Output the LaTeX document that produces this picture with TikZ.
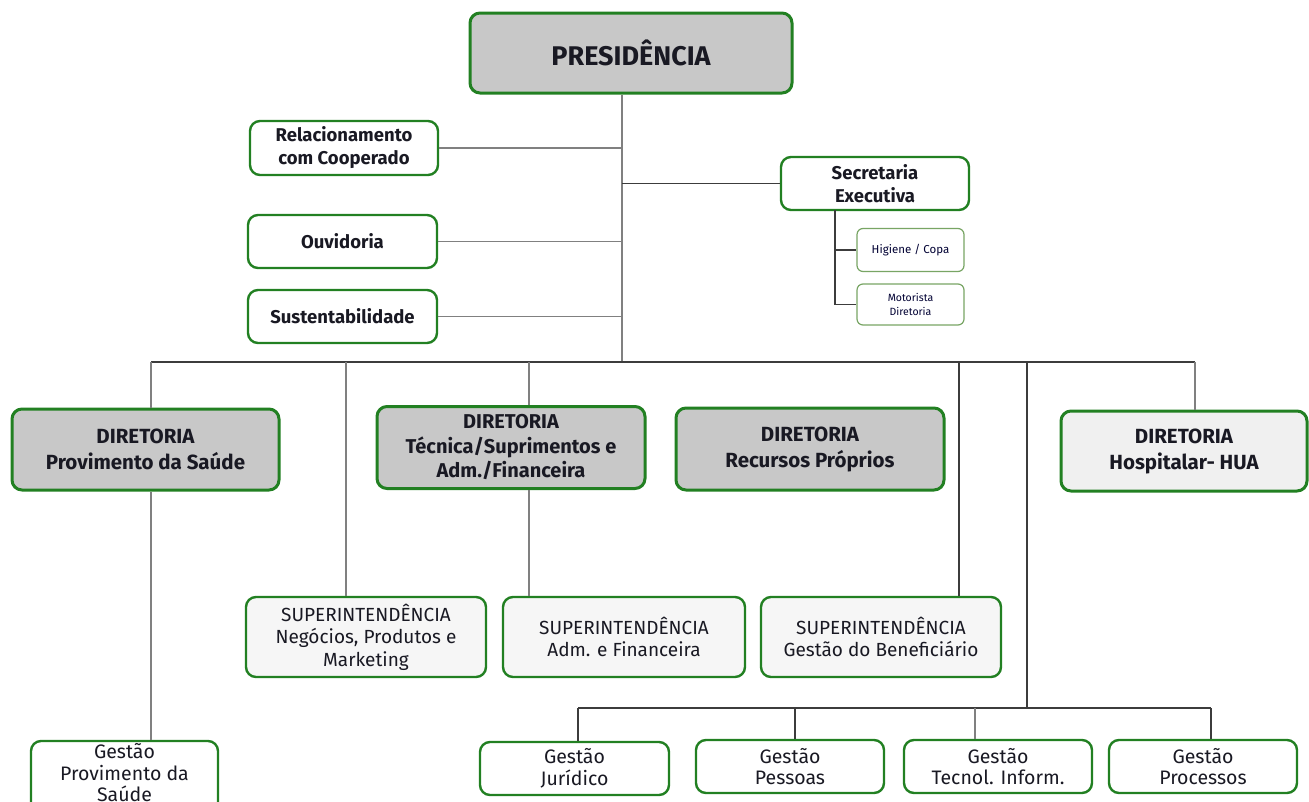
\documentclass[tikz,border=0pt]{standalone}
\usepackage{fontspec}
\setmainfont{Fira Sans}
\usetikzlibrary{calc}
\definecolor{gr}{RGB}{34,128,34}
\definecolor{lgr}{RGB}{120,165,100}
\definecolor{boxgray}{RGB}{200,200,200}
\definecolor{supfill}{RGB}{246,246,246}
\definecolor{hosfill}{RGB}{240,240,240}
\definecolor{lnA}{RGB}{128,128,128}
\definecolor{lnB}{RGB}{60,60,60}
\definecolor{txt}{RGB}{25,25,35}
\tikzset{
  base/.style={rounded corners=10pt, align=center, inner sep=0pt, text=txt},
  bigbox/.style={base, draw=gr, line width=3pt, fill=boxgray},
  sidebox/.style={base, draw=gr, line width=2.4pt, fill=white, font=\fontsize{18.5}{23}\selectfont\bfseries},
  dirbox/.style={base, draw=gr, line width=3pt, fill=boxgray, font=\fontsize{20.5}{26}\selectfont\bfseries},
  supbox/.style={base, draw=gr, line width=2.4pt, fill=supfill, font=\fontsize{19}{22.5}\selectfont},
  gesbox/.style={base, draw=gr, line width=2.4pt, fill=white, font=\fontsize{19.5}{21.5}\selectfont},
  smallbox/.style={base, draw=lgr, line width=1.2pt, fill=white, rounded corners=6pt, font=\fontsize{11.5}{14}\selectfont, text=black!80!blue},
  ln/.style={draw=lnA, line width=1.6pt},
  lnd/.style={draw=lnB, line width=1.6pt},
}
\begin{document}
\begin{tikzpicture}[x=1pt,y=-1pt]
\useasboundingbox (0,0) rectangle (1309,801);
\clip (0,0) rectangle (1309,801);
\fill[white] (0,0) rectangle (1309,801);

% coordinates
\coordinate (trunk) at (622,362);
\coordinate (busL) at (151,362);
\coordinate (busR) at (1195,362);
\coordinate (j2) at (346,362);
\coordinate (j3) at (529,362);
\coordinate (j4) at (959,362);
\coordinate (j5) at (1027,362);
\coordinate (sv) at (835,210);
\coordinate (gb) at (1027,708);
\coordinate (gbL) at (578,708);
\coordinate (gbR) at (1211,708);
\coordinate (g2) at (795,708);
\coordinate (g3) at (975,708);

% nodes
\node[bigbox, minimum width=322pt, minimum height=80pt, font=\fontsize{27}{32}\selectfont\bfseries] (pres) at (631,53) {PRESIDÊNCIA};
\node[sidebox, minimum width=188pt, minimum height=54pt] (rel) at (344,148) {Relacionamento\\com Cooperado};
\node[sidebox, minimum width=189pt, minimum height=53pt] (ouv) at (342.5,241.5) {Ouvidoria};
\node[sidebox, minimum width=189pt, minimum height=53pt] (sus) at (342.5,316.5) {Sustentabilidade};
\node[sidebox, minimum width=188pt, minimum height=53pt] (sec) at (875,183.5) {Secretaria\\Executiva};
\node[smallbox, minimum width=107pt, minimum height=43pt] (hig) at (910.5,250) {Higiene / Copa};
\node[smallbox, minimum width=107pt, minimum height=41pt, font=\fontsize{10.5}{14.5}\selectfont] (mot) at (910.5,304.5) {Motorista\\Diretoria};

\node[dirbox, minimum width=267pt, minimum height=81pt] (d1) at (145.5,449.5) {DIRETORIA\\Provimento da Saúde};
\node[dirbox, minimum width=268pt, minimum height=82pt, font=\fontsize{20}{24.5}\selectfont\bfseries] (d2) at (511,447.5) {DIRETORIA\\Técnica/Suprimentos e\\Adm./Financeira};
\node[dirbox, minimum width=268pt, minimum height=82pt] (d3) at (810,449) {DIRETORIA\\Recursos Próprios};
\node[dirbox, fill=hosfill, minimum width=246pt, minimum height=80pt] (d5) at (1184,451) {DIRETORIA\\Hospitalar- HUA};

\node[supbox, minimum width=240pt, minimum height=80pt] (sup1) at (366,637) {SUPERINTENDÊNCIA\\Negócios, Produtos e\\Marketing};
\node[supbox, minimum width=242pt, minimum height=80pt] (sup2) at (624,637) {SUPERINTENDÊNCIA\\Adm. e Financeira};
\node[supbox, minimum width=240pt, minimum height=80pt] (sup3) at (881,637) {SUPERINTENDÊNCIA\\Gestão do Beneficiário};

\node[gesbox, minimum width=187pt, minimum height=76pt] (gps) at (124.5,779) {};
\node[font=\fontsize{19.5}{21.5}\selectfont, text=txt, align=center, anchor=north] (gpst) at (124.5,740) {Gestão\\Provimento da\\Saúde};
\node[gesbox, minimum width=189pt, minimum height=53pt] (jur) at (574.5,768.5) {Gestão\\Jurídico};
\node[gesbox, minimum width=188pt, minimum height=53pt] (pes) at (790,766.5) {Gestão\\Pessoas};
\node[gesbox, minimum width=188pt, minimum height=53pt] (tec) at (998,766.5) {Gestão\\Tecnol. Inform.};
\node[gesbox, minimum width=188pt, minimum height=53pt] (pro) at (1203,766.5) {Gestão\\Processos};

% connectors
\draw[ln] (pres.south -| trunk) -- (trunk);
\draw[ln] (rel.east) -- (rel.east -| trunk);
\draw[ln] (ouv.east) -- (ouv.east -| trunk);
\draw[ln] (sus.east) -- (sus.east -| trunk);
\draw[lnd] (sec.west) -- (sec.west -| trunk);
\draw[lnd] (sv) |- (hig.west);
\draw[lnd] (sv) |- (mot.west);
\draw[lnd] (busL) -- (busR);
\draw[ln] (busL) -- (d1.north -| busL);
\draw[ln] (j2) -- (j2 |- sup1.north);
\draw[ln] (j3) -- (j3 |- d2.north);
\draw[ln] (j3 |- d2.south) -- (j3 |- sup2.north);
\draw[lnd] (j4) -- (j4 |- sup3.north);
\draw[lnd] (j5) -- (gb);
\draw[ln] (busR) -- (busR |- d5.north);
\draw[ln] (d1.south -| busL) -- (busL |- gps.north);
\draw[lnd] (gbL) -- (gbR);
\draw[lnd] (gbL) -- (gbL |- jur.north);
\draw[lnd] (g2) -- (g2 |- pes.north);
\draw[ln] (g3) -- (g3 |- tec.north);
\draw[lnd] (gbR) -- (gbR |- pro.north);
\end{tikzpicture}
\end{document}
